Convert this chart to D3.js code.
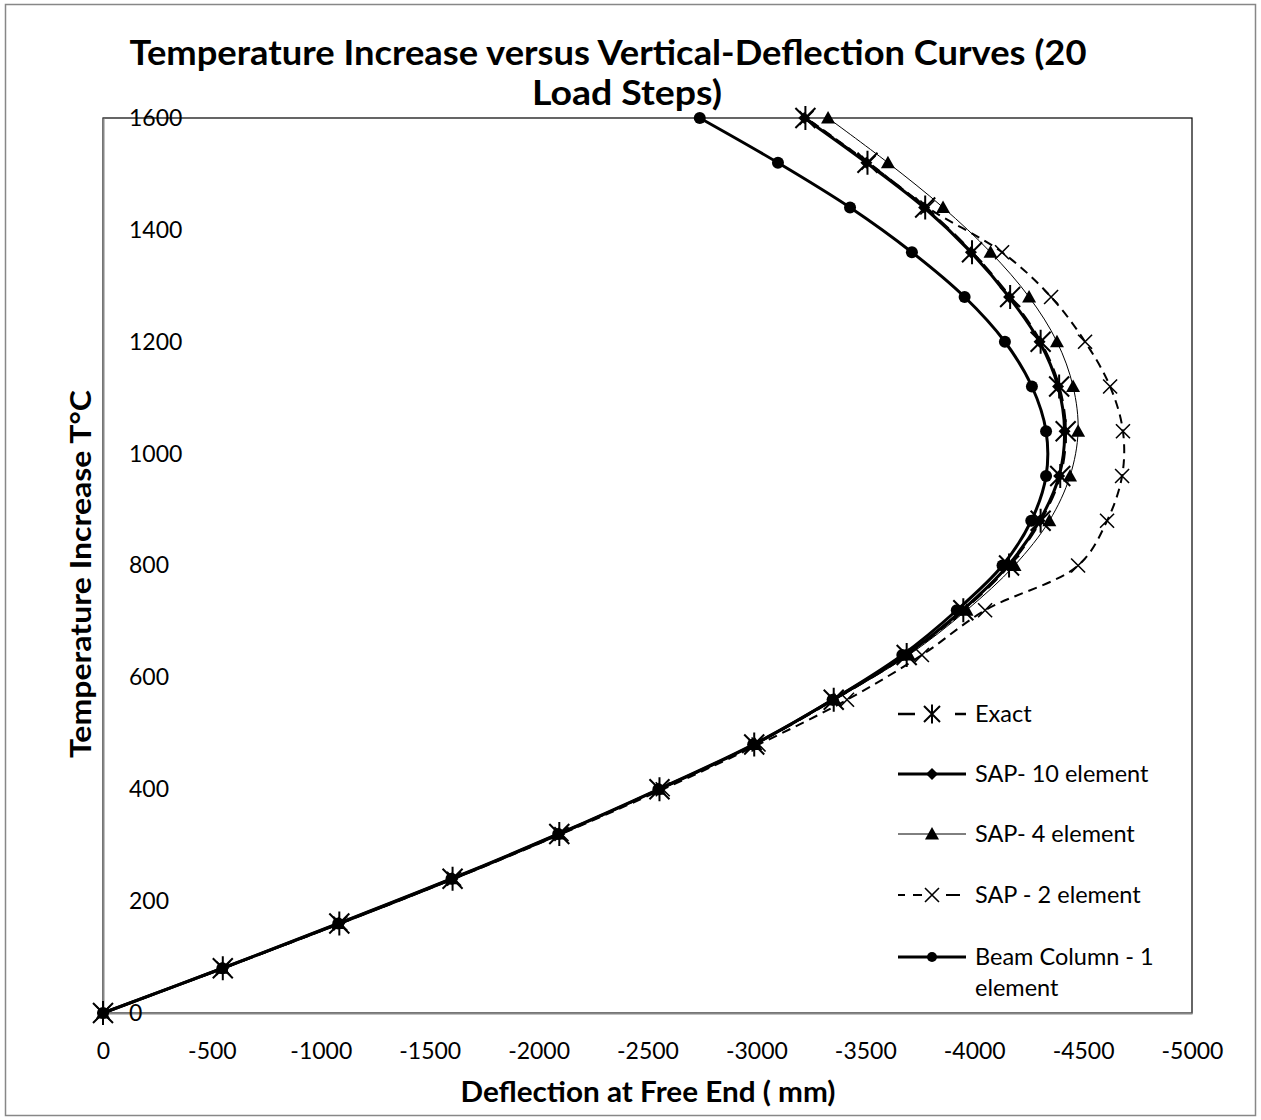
<!DOCTYPE html>
<html>
<head>
<meta charset="utf-8">
<script src="https://cdn.jsdelivr.net/npm/d3@7"></script>
<style>
  body { margin: 0; background: #fff; }
  svg text { font-family: Lato, "Open Sans", sans-serif; fill: #000; }
</style>
</head>
<body>
<div id="chart"></div>
<script>
    // Temperature steps (20 load steps of 80 degrees)
    var temps = [0, 80, 160, 240, 320, 400, 480, 560, 640, 720, 800, 880, 960, 1040, 1120, 1200, 1280, 1360, 1440, 1520, 1600]

    // Deflection at free end (mm)
    var exact = [0, -550, -1085, -1605, -2095, -2555, -2990, -3355, -3690, -3950, -4160, -4305, -4395, -4420, -4390, -4305, -4165, -3990, -3775, -3510, -3225]
    var sap10 = [0, -550, -1085, -1605, -2095, -2555, -2990, -3350, -3685, -3945, -4155, -4300, -4390, -4415, -4385, -4300, -4160, -3985, -3770, -3505, -3220]
    var sap4 = [0, -548, -1082, -1603, -2093, -2553, -2995, -3360, -3700, -3965, -4185, -4345, -4440, -4477, -4454, -4380, -4252, -4075, -3857, -3604, -3329]
    var sap2 = [0, -552, -1090, -1612, -2105, -2570, -3010, -3416, -3760, -4050, -4477, -4610, -4679, -4683, -4624, -4509, -4353, -4128, -3785, -3515, -3230]
    var beam = [0, -548, -1080, -1600, -2090, -2550, -2985, -3350, -3670, -3920, -4130, -4262, -4330, -4330, -4265, -4141, -3956, -3714, -3430, -3099, -2740]

    var seriesNames = ['Exact', 'SAP- 10 element', 'SAP- 4 element', 'SAP - 2 element', 'Beam Column - 1 element']
    var xTicks = [0, -500, -1000, -1500, -2000, -2500, -3000, -3500, -4000, -4500, -5000]
    var yTicks = [0, 200, 400, 600, 800, 1000, 1200, 1400, 1600]

    // line / marker styling per series
    var styles = [
        { values: exact, marker: 'star', width: 2.5, dash: '13,8', legendDash: '17,40,12' },
        { values: sap10, marker: 'diamond', width: 3, dash: null },
        { values: sap4, marker: 'triangle', width: 1, dash: null },
        { values: sap2, marker: 'cross', width: 2, dash: '9,6', legendDash: '7,8,9,24,14' },
        { values: beam, marker: 'circle', width: 3, dash: null }
    ]

    var W = 1261, H = 1120

    var svg = d3.select('#chart').append('svg')
        .attr('width', W)
        .attr('height', H)

    // outer chart border
    svg.append('rect')
        .attr('x', 5.5).attr('y', 4.5)
        .attr('width', 1250).attr('height', 1111)
        .attr('fill', '#fff')
        .attr('stroke', '#878787')
        .attr('stroke-width', 1.5)

    var x = d3.scaleLinear().domain([0, -5000]).range([103, 1192])
    var y = d3.scaleLinear().domain([0, 1600]).range([1013, 118])

    // plot area border (top / right)
    svg.append('rect')
        .attr('x', x(0)).attr('y', y(1600))
        .attr('width', x(-5000) - x(0)).attr('height', y(0) - y(1600))
        .attr('fill', 'none')
        .attr('stroke', '#000')
        .attr('stroke-width', 1.2)

    // plain hyphen minus, like the original
    var fmt = function(d) { return String(d) }

    // Axes
    var xAxis = svg.append('g')
        .attr('transform', 'translate(0,' + y(0) + ')')
        .call(d3.axisBottom(x).tickValues(xTicks).tickSize(0).tickPadding(30).tickFormat(fmt))
    xAxis.select('.domain').attr('stroke', '#868686').attr('stroke-width', 2)
    xAxis.selectAll('text').style('font-size', '23px')

    var yAxis = svg.append('g')
        .attr('transform', 'translate(' + x(0) + ',0)')
        .call(d3.axisLeft(y).tickValues(yTicks).tickSize(0).tickFormat(fmt))
    yAxis.select('.domain').attr('stroke', '#868686').attr('stroke-width', 2)
    yAxis.selectAll('text')
        .style('font-size', '23px')
        .attr('text-anchor', 'start')
        .attr('x', 26)

    // Marker shapes
    var markerPath = function(type, s) {
        if (type == 'diamond') return 'M0,' + (-s) + 'L' + s + ',0L0,' + s + 'L' + (-s) + ',0Z'
        if (type == 'triangle') return 'M0,' + (-s) + 'L' + s + ',' + (s * 0.8) + 'L' + (-s) + ',' + (s * 0.8) + 'Z'
        if (type == 'cross') return 'M' + (-s) + ',' + (-s) + 'L' + s + ',' + s + 'M' + (-s) + ',' + s + 'L' + s + ',' + (-s)
        if (type == 'star') return 'M' + (-s) + ',' + (-s) + 'L' + s + ',' + s + 'M' + (-s) + ',' + s + 'L' + s + ',' + (-s) + 'M0,' + (-s * 1.2) + 'L0,' + (s * 1.2)
        return ''
    }

    var drawMarker = function(g, type, cx, cy, legend) {
        if (type == 'circle') {
            g.append('circle').attr('cx', cx).attr('cy', cy).attr('r', legend ? 5 : 6).attr('fill', '#000')
            return
        }
        var s = { diamond: 6, triangle: 7, cross: 7, star: legend ? 8 : 10 }[type]
        var p = g.append('path')
            .attr('transform', 'translate(' + cx + ',' + cy + ')')
            .attr('d', markerPath(type, s))
        if (type == 'cross' || type == 'star') {
            p.attr('fill', 'none').attr('stroke', '#000').attr('stroke-width', type == 'star' ? 2 : 1.6)
        } else {
            p.attr('fill', '#000')
        }
    }

    var line = d3.line()
        .x(function(d) { return x(d[0]) })
        .y(function(d) { return y(d[1]) })
        .curve(d3.curveCatmullRom.alpha(0.5))

    styles.forEach(function(st) {
        var pts = st.values.map(function(v, i) { return [v, temps[i]] })
        var g = svg.append('g')
        g.append('path')
            .attr('d', line(pts))
            .attr('fill', 'none')
            .attr('stroke', '#000')
            .attr('stroke-width', st.width)
            .attr('stroke-dasharray', st.dash)
        pts.forEach(function(p) {
            drawMarker(g, st.marker, x(p[0]), y(p[1]), false)
        })
    })

    // Legend
    var legendY = [714, 774, 834, 895, 957]
    var legend = svg.append('g')
    styles.forEach(function(st, i) {
        var ly = legendY[i]
        legend.append('line')
            .attr('x1', 898).attr('x2', 966)
            .attr('y1', ly).attr('y2', ly)
            .attr('stroke', '#000')
            .attr('stroke-width', st.width)
            .attr('stroke-dasharray', st.legendDash || null)
        drawMarker(legend, st.marker, 932, ly, true)
        var words = i == 4 ? ['Beam Column - 1', 'element'] : [seriesNames[i]]
        words.forEach(function(w, j) {
            legend.append('text')
                .attr('x', 975)
                .attr('y', ly + j * 31)
                .attr('dy', '0.35em')
                .style('font-size', '23.5px')
                .text(w)
        })
    })

    // Titles
    svg.append('text')
        .attr('x', 608).attr('y', 65)
        .attr('text-anchor', 'middle')
        .attr('textLength', 957).attr('lengthAdjust', 'spacingAndGlyphs')
        .style('font-size', '34px').style('font-weight', 'bold')
        .text('Temperature Increase versus Vertical-Deflection Curves (20')
    svg.append('text')
        .attr('x', 627).attr('y', 105)
        .attr('text-anchor', 'middle')
        .attr('textLength', 190).attr('lengthAdjust', 'spacingAndGlyphs')
        .style('font-size', '34px').style('font-weight', 'bold')
        .text('Load Steps)')

    svg.append('text')
        .attr('x', 648).attr('y', 1102)
        .attr('text-anchor', 'middle')
        .attr('textLength', 375).attr('lengthAdjust', 'spacingAndGlyphs')
        .style('font-size', '28px').style('font-weight', 'bold')
        .text('Deflection at Free End ( mm)')

    svg.append('text')
        .attr('transform', 'translate(91,574) rotate(-90)')
        .attr('text-anchor', 'middle')
        .attr('textLength', 368).attr('lengthAdjust', 'spacingAndGlyphs')
        .style('font-size', '28px').style('font-weight', 'bold')
        .text('Temperature Increase T°C')
</script>
</body>
</html>
